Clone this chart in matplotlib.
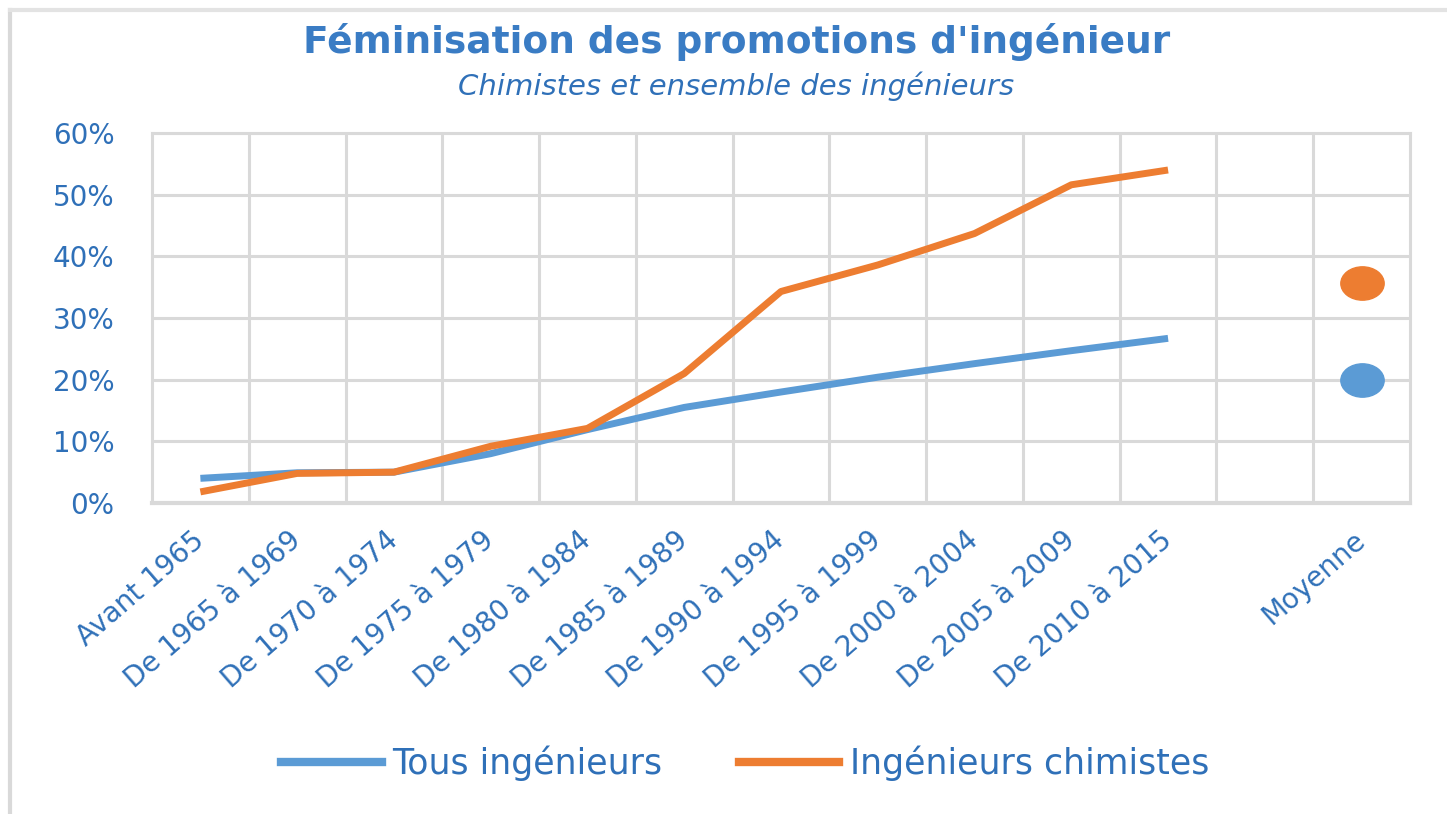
import matplotlib
matplotlib.use('Agg')
import matplotlib.pyplot as plt
from matplotlib.ticker import PercentFormatter, FixedLocator
from matplotlib.markers import MarkerStyle
from matplotlib.transforms import Affine2D
from matplotlib.lines import Line2D

# --- data ---
categories = ['Avant 1965', 'De 1965 à 1969', 'De 1970 à 1974', 'De 1975 à 1979',
              'De 1980 à 1984', 'De 1985 à 1989', 'De 1990 à 1994', 'De 1995 à 1999',
              'De 2000 à 2004', 'De 2005 à 2009', 'De 2010 à 2015', '', 'Moyenne']
tous = [4.0, 4.9, 5.0, 8.0, 11.9, 15.5, 18.0, 20.4, 22.6, 24.7, 26.7]
chimistes = [1.8, 4.8, 5.0, 9.2, 12.1, 21.0, 34.3, 38.6, 43.7, 51.6, 54.0]
moyenne_tous = 20.0
moyenne_chimistes = 35.6

BLUE = '#5B9BD5'
ORANGE = '#ED7D31'
TEXT = '#2F70B8'
GRID = '#D9D9D9'

fig = plt.figure(figsize=(14.47, 8.14), dpi=100)
ax = fig.add_axes([152 / 1447, 1 - 503 / 814, (1410 - 152) / 1447, (503 - 133) / 814])

x_periods = list(range(len(tous)))
ax.plot(x_periods, tous, color=BLUE, lw=5, solid_capstyle='butt', zorder=3)
ax.plot(x_periods, chimistes, color=ORANGE, lw=5, solid_capstyle='butt', zorder=3)

# Moyenne points (slightly wide ellipses)
oval = MarkerStyle('o', transform=Affine2D().scale(1.3, 1.0))
moy_x = len(categories) - 1
ax.plot([moy_x], [moyenne_chimistes], marker=oval, ms=24, color=ORANGE, ls='none', zorder=3)
ax.plot([moy_x], [moyenne_tous], marker=oval, ms=24, color=BLUE, ls='none', zorder=3)

ax.set_xlim(-0.5, len(categories) - 0.5)
ax.set_ylim(0, 60)
ax.yaxis.set_major_locator(FixedLocator([0, 10, 20, 30, 40, 50, 60]))
ax.yaxis.set_major_formatter(PercentFormatter(decimals=0))
ax.set_xticks(range(len(categories)))
ax.set_xticklabels(categories, rotation=41, ha='right', va='center',
                   rotation_mode='anchor', fontsize=20, color=TEXT)
ax.set_xticks([k + 0.5 for k in range(len(categories) - 1)], minor=True)
ax.tick_params(axis='x', which='both', length=0, pad=24)
ax.tick_params(axis='y', length=0, pad=27, labelsize=20, labelcolor=TEXT)

ax.grid(True, which='major', axis='y', color=GRID, lw=2.2, zorder=0)
ax.grid(True, which='minor', axis='x', color=GRID, lw=2.2, zorder=0)
for side in ['left', 'right', 'top', 'bottom']:
    ax.spines[side].set_color(GRID)
    ax.spines[side].set_linewidth(2.2)
ax.spines['bottom'].set_linewidth(3)

# titles
fig.text(0.509, 1 - 42 / 814, "Féminisation des promotions d'ingénieur",
         ha='center', va='center', fontsize=27, fontweight='bold', color='#3A7CC4')
fig.text(0.509, 1 - 86 / 814, 'Chimistes et ensemble des ingénieurs',
         ha='center', va='center', fontsize=21, style='italic', color=TEXT)

# legend
handles = [Line2D([], [], color=BLUE, lw=6), Line2D([], [], color=ORANGE, lw=6)]
fig.legend(handles, ['Tous ingénieurs', 'Ingénieurs chimistes'], loc='center',
           bbox_to_anchor=(745 / 1447, 1 - 763 / 814), ncol=2, frameon=False,
           fontsize=25, labelcolor=TEXT, handlelength=2.9, handletextpad=0.3,
           columnspacing=2.2)

# outer chart frame (left and top edges)
fig.add_artist(Line2D([10 / 1447, 10 / 1447], [0, 1 - 10 / 814], transform=fig.transFigure,
                      color='#D9D9D9', lw=3))
fig.add_artist(Line2D([10 / 1447, 1], [1 - 10 / 814, 1 - 10 / 814], transform=fig.transFigure,
                      color='#E3E3E3', lw=3))

fig.savefig('out.png', dpi=100)
